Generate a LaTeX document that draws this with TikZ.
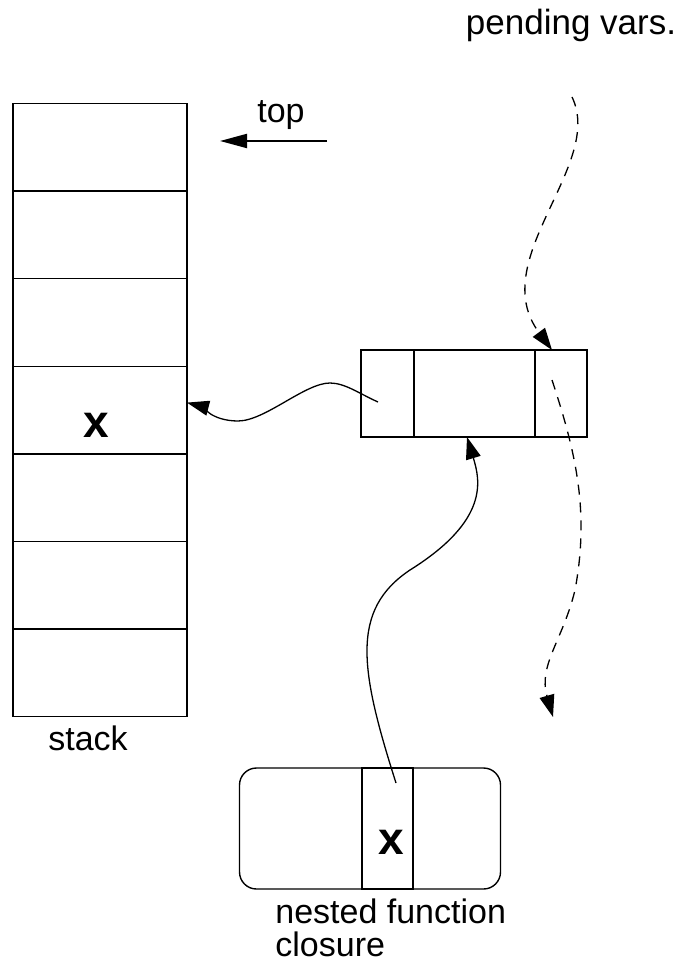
\documentclass[tikz,border=0pt]{standalone}
\usepackage{fontspec}
\setmainfont{Liberation Sans}
\usepackage{tikz}
\usetikzlibrary{shapes.geometric, arrows.meta, positioning}
\tikzstyle{cell} = [rectangle, draw, minimum width=87pt, minimum height=43.8pt, inner sep=0pt, outer sep=0pt, line width=0.7pt]
\tikzstyle{field} = [rectangle, draw, minimum height=43.5pt, inner sep=0pt, outer sep=0pt, line width=0.7pt]
\tikzstyle{closurebox} = [rectangle, draw, rounded corners=8.5pt, minimum width=130.5pt, minimum height=60.5pt, inner sep=0pt, outer sep=0pt, line width=0.7pt]
\tikzstyle{label} = [font=\fontsize{17pt}{16.5pt}\selectfont, inner sep=0pt]
\tikzstyle{varname} = [font=\fontsize{23pt}{26pt}\selectfont\bfseries, inner sep=0pt]
\tikzstyle{arrow} = [line width=0.65pt,->,>={Triangle[length=11pt,width=7.5pt]}]
\tikzstyle{varsarrow} = [arrow, dash pattern=on 5pt off 4pt]
\tikzstyle{toparrow} = [line width=1pt,->,>={Triangle[length=13.5pt,width=7pt]}]

\begin{document}
\begin{tikzpicture}[x=0.5pt, y=-0.5pt, node distance=0pt]
\useasboundingbox (0,0) rectangle (678,961);

% Nodes for the stack
\node (cell1) [cell] at (100,147.3) {};
\node (cell2) [cell, below=of cell1] {};
\node (cell3) [cell, below=of cell2] {};
\node (cell4) [cell, below=of cell3] {};
\node (cell5) [cell, below=of cell4] {};
\node (cell6) [cell, below=of cell5] {};
\node (cell7) [cell, below=of cell6] {};
\node (stackx) [varname] at (96,425) {x};
\node (stacklbl) [label, anchor=base] at (88,750) {stack};

% top of stack
\node (toplbl) [label, anchor=base] at (281,123) {top};
\coordinate (topstart) at (327,141);
\coordinate (topend) at (220,141);

% Nodes for the record
\node (rec1) [field, minimum width=26.5pt] at (387.5,393.5) {};
\node (rec2) [field, minimum width=60.5pt, right=of rec1] {};
\node (rec3) [field, minimum width=26pt, right=of rec2] {};

% Nodes for the closure
\node (closure) [closurebox] at (370,828.5) {};
\node (closslot) [rectangle, draw, minimum width=25.5pt, minimum height=60.5pt, inner sep=0pt, line width=0.7pt] at (387.5,828.5) {};
\node (closx) [varname] at (391,842) {x};
\node (closurelbl) [label, anchor=north west, align=left] at (275,898) {nested function\\closure};

% pending vars.
\node (pending) [label, font=\fontsize{17.5pt}{20pt}\selectfont, anchor=base] at (571,35) {pending vars.};
\coordinate (varsstart) at (572,97);
\coordinate (varsnext) at (552,380);
\coordinate (varsend) at (553,717);

\coordinate (linkstart) at (378,402);
\coordinate (slotstart) at (396,783);

% Arrows
\draw[toparrow] (topstart) -- (topend);
\draw[arrow] (linkstart) .. controls (360,394) and (345,383) .. (330,383)
  .. controls (305,383) and (265,421) .. (238,421)
  .. controls (212,421) and (200,406) .. ([yshift=3.75pt]cell4.east);
\draw[arrow] (slotstart) .. controls (360,670) and (350,610) .. (410,570)
  .. controls (490,520) and (480,480) .. ([xshift=-3.75pt]rec2.south);
\draw[varsarrow] (varsstart) .. controls (605,165) and (485,260) .. ([xshift=-4.5pt]rec3.north);
\draw[varsarrow] (varsnext) .. controls (575,450) and (590,510) .. (575,590)
  .. controls (563,640) and (538,665) .. (varsend);

\end{tikzpicture}
\end{document}
